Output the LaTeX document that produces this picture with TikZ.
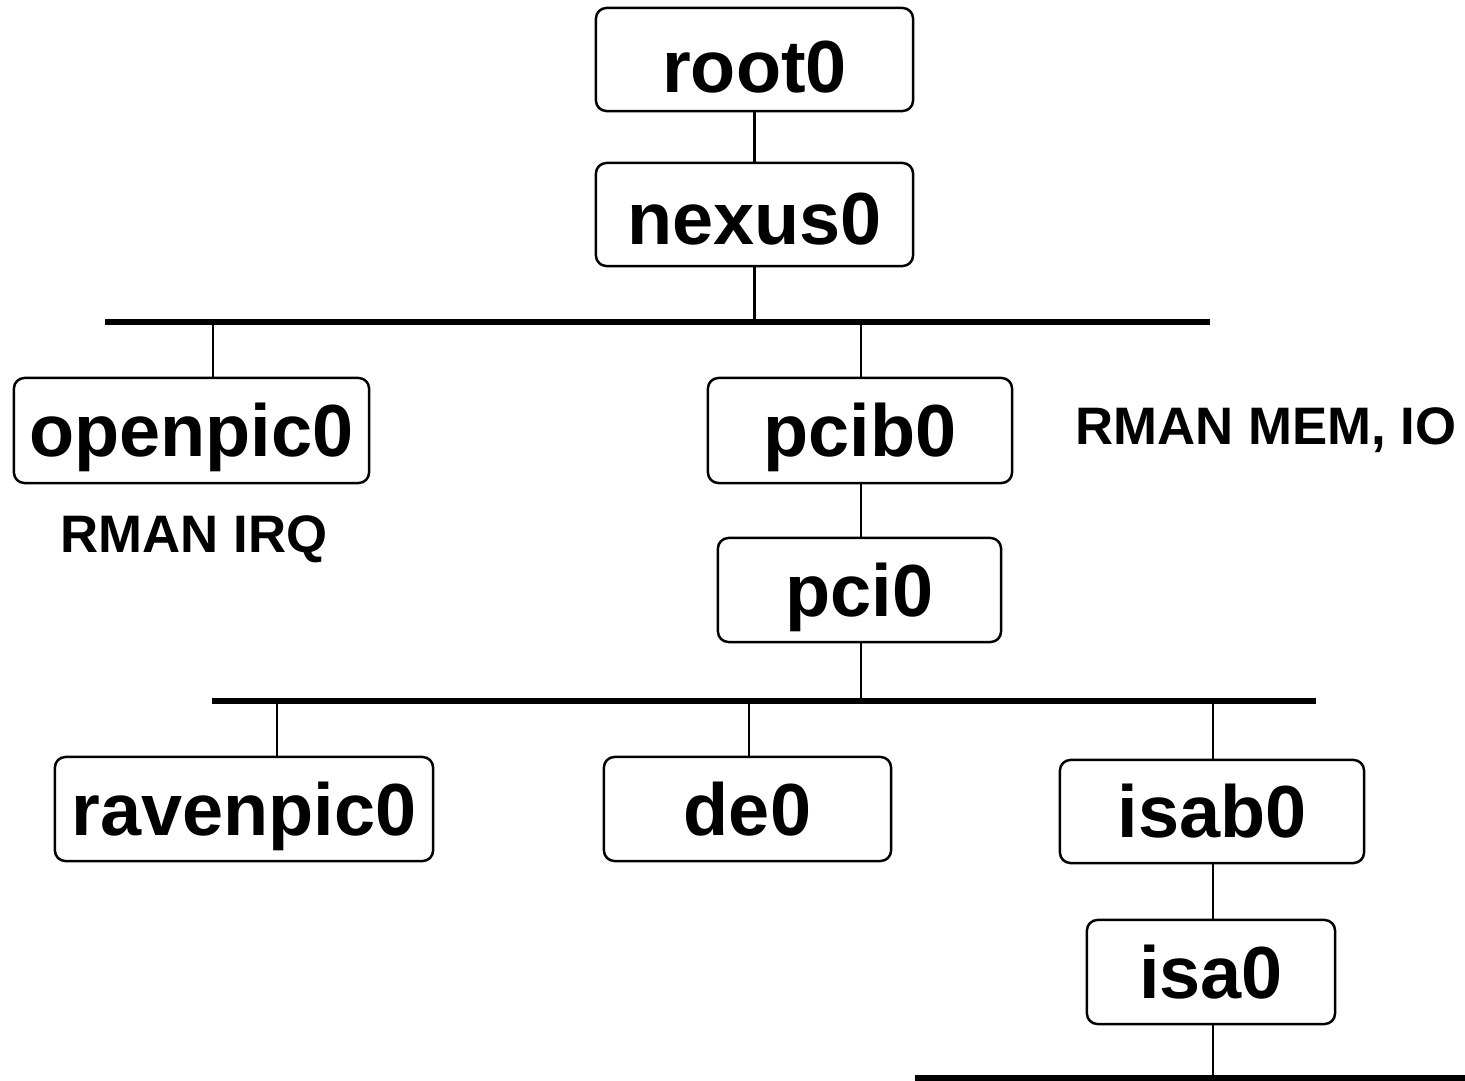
\documentclass[tikz,border=0pt]{standalone}
\usepackage{fontspec}
\setmainfont{Liberation Sans}
\usetikzlibrary{positioning,calc}

\tikzset{
  dev/.style={draw, rounded corners=3pt, line width=0.7pt, inner sep=0pt,
    minimum height=1.04cm, text height=15pt, text depth=0pt,
    font=\fontsize{21}{25}\selectfont\bfseries},
  note/.style={font=\fontsize{15}{18}\selectfont\bfseries},
  wire/.style={line width=0.6pt},
  bus/.style={line width=1.45pt}
}

\begin{document}
\begin{tikzpicture}[x=0.01cm, y=-0.01cm]
\useasboundingbox (0,0) rectangle (1465,1081);
\node[dev, minimum width=3.17cm, minimum height=1.03cm, text height=19pt] (root) at (754.5,59.5) {root0};
\node[dev, minimum width=3.17cm, minimum height=1.03cm, text height=17pt] (nexus) at (754.5,214.5) {nexus0};
\node[dev, minimum width=3.55cm, minimum height=1.05cm] (openpic) at (191.5,430.5) {openpic0};
\node[dev, minimum width=3.04cm, minimum height=1.05cm] (pcib) at (860,430.5) {pcib0};
\node[dev, minimum width=2.83cm] (pci) at (859.5,590) {pci0};
\node[dev, minimum width=3.78cm] (ravenpic) at (244,809) {ravenpic0};
\node[dev, minimum width=2.87cm] (de) at (747.5,809) {de0};
\node[dev, minimum width=3.04cm, minimum height=1.03cm] (isab) at (1212,811.5) {isab0};
\node[dev, minimum width=2.48cm] (isa) at (1211,972) {isa0};
\node[note] (rmanio) at (1266,430) {RMAN MEM, IO};
\node[note] (rmanirq) at (194,539) {RMAN IRQ};
% buses
\coordinate (b1l) at (105,322);
\coordinate (b1r) at (1210,322);
\coordinate (b2l) at (212,701);
\coordinate (b2r) at (1316,701);
\coordinate (b3l) at (915,1078);
\coordinate (b3r) at (1465,1078);
\draw[bus] (b1l) -- (b1r);
\draw[bus] (b2l) -- (b2r);
\draw[bus] (b3l) -- (b3r);
% taps
\coordinate (t1) at (213,322);
\coordinate (t2) at (861,322);
\coordinate (t3) at (277,701);
\coordinate (t4) at (749,701);
\coordinate (t5) at (1213,701);
\coordinate (t6) at (1213,1078);
\draw[wire] (root.south) -- (nexus.north);
\draw[wire] (nexus.south) -- (nexus.south |- b1l);
\draw[wire] (t1) -- (t1 |- openpic.north);
\draw[wire] (t2) -- (t2 |- pcib.north);
\draw[wire] (t2 |- pcib.south) -- (t2 |- pci.north);
\draw[wire] (t2 |- pci.south) -- (t2 |- b2l);
\draw[wire] (t3) -- (t3 |- ravenpic.north);
\draw[wire] (t4) -- (t4 |- de.north);
\draw[wire] (t5) -- (t5 |- isab.north);
\draw[wire] (t5 |- isab.south) -- (t5 |- isa.north);
\draw[wire] (t6 |- isa.south) -- (t6);
\end{tikzpicture}
\end{document}
